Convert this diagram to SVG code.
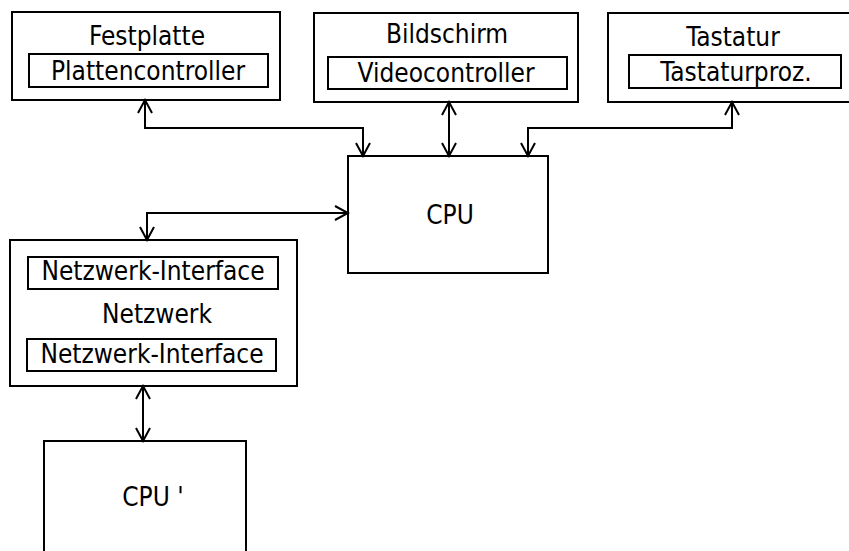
<svg xmlns="http://www.w3.org/2000/svg" width="849" height="551" viewBox="0 0 849 551">
  <style>
    .box { fill: #ffffff; stroke: #000000; stroke-width: 2; }
    .inner { fill: none; stroke: #000000; stroke-width: 2; }
    .lbl { font-family: "DejaVu Sans Condensed", "DejaVu Sans", Verdana, sans-serif; font-stretch: condensed; font-size: 26px; fill: #000000; text-anchor: middle; }
    .wire { fill: none; stroke: #000000; stroke-width: 2; marker-start: url(#tip); marker-end: url(#tip); }
  </style>
  <defs>
    <marker id="tip" markerUnits="userSpaceOnUse" markerWidth="16" markerHeight="18" viewBox="-14 -8 16 16" refX="0" refY="0" orient="auto-start-reverse">
      <path d="M-13,-7 L0,0 L-13,7" fill="none" stroke="#000000" stroke-width="2"/>
    </marker>
  </defs>
  <rect width="849" height="551" fill="#ffffff"/>

  <g id="festplatte">
    <rect class="box" x="12" y="12" width="268" height="88"/>
    <text class="lbl" x="147" y="45">Festplatte</text>
    <rect class="inner" x="29" y="54" width="239" height="33"/>
    <text class="lbl" x="148" y="80">Plattencontroller</text>
  </g>

  <g id="bildschirm">
    <rect class="box" x="314" y="13" width="264" height="89"/>
    <text class="lbl" x="447" y="43">Bildschirm</text>
    <rect class="inner" x="328" y="57" width="239" height="32"/>
    <text class="lbl" x="446" y="82">Videocontroller</text>
  </g>

  <g id="tastatur">
    <rect class="box" x="608" y="13" width="250" height="89"/>
    <text class="lbl" x="733" y="46">Tastatur</text>
    <rect class="inner" x="629" y="55" width="212" height="33"/>
    <text class="lbl" x="736" y="81">Tastaturproz.</text>
  </g>

  <g id="cpu">
    <rect class="box" x="348" y="156" width="200" height="117"/>
    <text class="lbl" x="450" y="224">CPU</text>
  </g>

  <g id="netzwerk">
    <rect class="box" x="10" y="240" width="287" height="146"/>
    <rect class="inner" x="28" y="257" width="250" height="32"/>
    <text class="lbl" x="153" y="280">Netzwerk-Interface</text>
    <text class="lbl" x="157" y="323">Netzwerk</text>
    <rect class="inner" x="27" y="339" width="249" height="32"/>
    <text class="lbl" x="152" y="363">Netzwerk-Interface</text>
  </g>

  <g id="cpu2">
    <rect class="box" x="44" y="441" width="202" height="130"/>
    <text class="lbl" x="153" y="506">CPU '</text>
  </g>

  <g id="connectors">
    <path class="wire" d="M145,100 V128 H363 V156"/>
    <path class="wire" d="M449,102 V156"/>
    <path class="wire" d="M732,102 V128 H528 V156"/>
    <path class="wire" d="M348,213 H147 V240"/>
    <path class="wire" d="M143,386 V441"/>
  </g>
</svg>
